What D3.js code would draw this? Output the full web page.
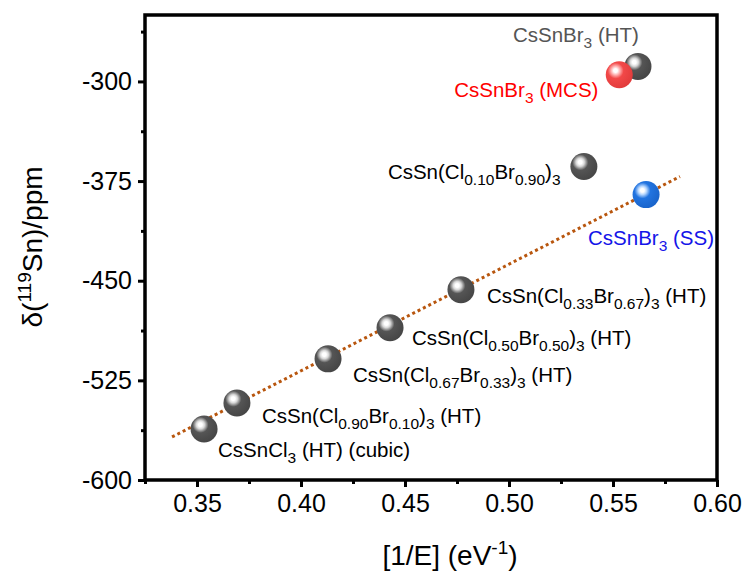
<!DOCTYPE html>
<html><head><meta charset="utf-8">
<script src="https://cdn.jsdelivr.net/npm/d3@7"></script>
<style>body{margin:0;background:#fff}svg{font-family:"Liberation Sans",Arial,sans-serif}</style>
</head><body><svg id="c" width="753" height="571"></svg>
<script>
const names = ["CsSnCl3 (HT) (cubic)","CsSn(Cl0.90Br0.10)3 (HT)","CsSn(Cl0.67Br0.33)3 (HT)","CsSn(Cl0.50Br0.50)3 (HT)","CsSn(Cl0.33Br0.67)3 (HT)","CsSn(Cl0.10Br0.90)3","CsSnBr3 (SS)","CsSnBr3 (HT)","CsSnBr3 (MCS)"];
const invE = [0.3534,0.3692,0.4130,0.4428,0.4769,0.5360,0.5659,0.5620,0.5530];
const shift = [-561.6,-542.0,-508.8,-485.4,-456.8,-364.0,-385.2,-288.7,-295.0];
const kind = ["gray","gray","gray","gray","gray","gray","blue","gray","red"];
const labelParts = [
 [["CsSnCl",0],["3",1],[" (HT) (cubic)",0]],
 [["CsSn(Cl",0],["0.90",1],["Br",0],["0.10",1],[")",0],["3",1],[" (HT)",0]],
 [["CsSn(Cl",0],["0.67",1],["Br",0],["0.33",1],[")",0],["3",1],[" (HT)",0]],
 [["CsSn(Cl",0],["0.50",1],["Br",0],["0.50",1],[")",0],["3",1],[" (HT)",0]],
 [["CsSn(Cl",0],["0.33",1],["Br",0],["0.67",1],[")",0],["3",1],[" (HT)",0]],
 [["CsSn(Cl",0],["0.10",1],["Br",0],["0.90",1],[")",0],["3",1]],
 [["CsSnBr",0],["3",1],[" (SS)",0]],
 [["CsSnBr",0],["3",1],[" (HT)",0]],
 [["CsSnBr",0],["3",1],[" (MCS)",0]]
];
const labelColor = ["#000","#000","#000","#000","#000","#000","#1414e8","#555","#f00"];
const labelDx = [14,25,25,22,26,-196,-58,-125,-165];
const labelDy = [28,20,23,17,13,13,50,-24,22];
const fitX = [0.338,0.5822];
const fitY = [-567.6,-371.6];
const xTicks = [0.35,0.40,0.45,0.50,0.55,0.60];
const yTicks = [-600,-525,-450,-375,-300];

const svg = d3.select("#c");
const L=145,R=717,T=15,B=480;
const x = d3.scaleLinear().domain([0.325,0.60]).range([L,R]);
const y = d3.scaleLinear().domain([-600,-250]).range([B,T]);

const defs = svg.append("defs");
const grads = {gray:["#d8d8d8","#555555","#444444"], red:["#ffb8b8","#f24848","#e03a3a"], blue:["#b8d8ff","#2274e0","#1862c8"]};
Object.entries(grads).forEach(([k,c])=>{
  const g = defs.append("radialGradient").attr("id","g"+k).attr("cx","38%").attr("cy","36%").attr("r","70%").attr("fx","36%").attr("fy","34%");
  g.append("stop").attr("offset","0%").attr("stop-color","#fff");
  g.append("stop").attr("offset","10%").attr("stop-color","#fff");
  g.append("stop").attr("offset","22%").attr("stop-color",c[0]);
  g.append("stop").attr("offset","42%").attr("stop-color",c[1]);
  g.append("stop").attr("offset","100%").attr("stop-color",c[2]);
});

const fmtY = d => String(d);
const xAxis = d3.axisBottom(x).tickValues(xTicks).tickFormat(d3.format(".2f")).tickSize(7).tickPadding(7);
svg.append("g").attr("transform",`translate(0,${B})`).call(xAxis);
const xMinor = d3.axisBottom(x).tickValues([0.325,0.375,0.425,0.475,0.525,0.575]).tickFormat("").tickSize(4);
svg.append("g").attr("transform",`translate(0,${B})`).call(xMinor);
const yAxis = d3.axisLeft(y).tickValues(yTicks).tickFormat(fmtY).tickSize(7).tickPadding(6);
svg.append("g").attr("transform",`translate(${L},0)`).call(yAxis);
const yMinor = d3.axisLeft(y).tickValues([-562.5,-487.5,-412.5,-337.5,-262.5]).tickFormat("").tickSize(4);
svg.append("g").attr("transform",`translate(${L},0)`).call(yMinor);
svg.selectAll(".domain").remove();
svg.selectAll(".tick line").attr("stroke","#000").attr("stroke-width",3);
svg.selectAll(".tick text").attr("font-size",25).attr("fill","#000").attr("font-family","Liberation Sans, Arial, sans-serif");

svg.append("rect").attr("x",L).attr("y",T).attr("width",R-L).attr("height",B-T).attr("fill","none").attr("stroke","#000").attr("stroke-width",3.5);

svg.append("line").attr("x1",x(fitX[0])).attr("y1",y(fitY[0])).attr("x2",x(fitX[1])).attr("y2",y(fitY[1]))
  .attr("stroke","#b8560e").attr("stroke-width",3).attr("stroke-dasharray","3,3");

const order = [0,1,2,3,4,5,6,7,8];
svg.append("g").selectAll("circle").data(order).join("circle")
  .attr("cx",i=>x(invE[i])).attr("cy",i=>y(shift[i])).attr("r",13.5)
  .attr("fill",i=>`url(#g${kind[i]})`);

const lg = svg.append("g").attr("font-size",20.5);
order.forEach(i=>{
  const t = lg.append("text").attr("x",x(invE[i])+labelDx[i]).attr("y",y(shift[i])+labelDy[i]).attr("fill",labelColor[i]);
  let sub=false;
  labelParts[i].forEach(([s,b])=>{
    const ts = t.append("tspan").text(s);
    if(b===1 && !sub){ts.attr("dy",6).attr("font-size",15.5);sub=true;}
    else if(b===1 && sub){ts.attr("font-size",15.5);}
    else if(b===0 && sub){ts.attr("dy",-6);sub=false;}
  });
});

const xt = svg.append("text").attr("x",450).attr("y",565).attr("text-anchor","middle").attr("font-size",28);
xt.append("tspan").text("[1/E] (eV");
xt.append("tspan").text("-1").attr("dy",-11).attr("font-size",19);
xt.append("tspan").text(")").attr("dy",11);
const yt = svg.append("text").attr("transform","translate(42,247) rotate(-90)").attr("text-anchor","middle").attr("font-size",28);
yt.append("tspan").text("δ(");
yt.append("tspan").text("119").attr("dy",-11).attr("font-size",19);
yt.append("tspan").text("Sn)/ppm").attr("dy",11);
</script></body></html>
